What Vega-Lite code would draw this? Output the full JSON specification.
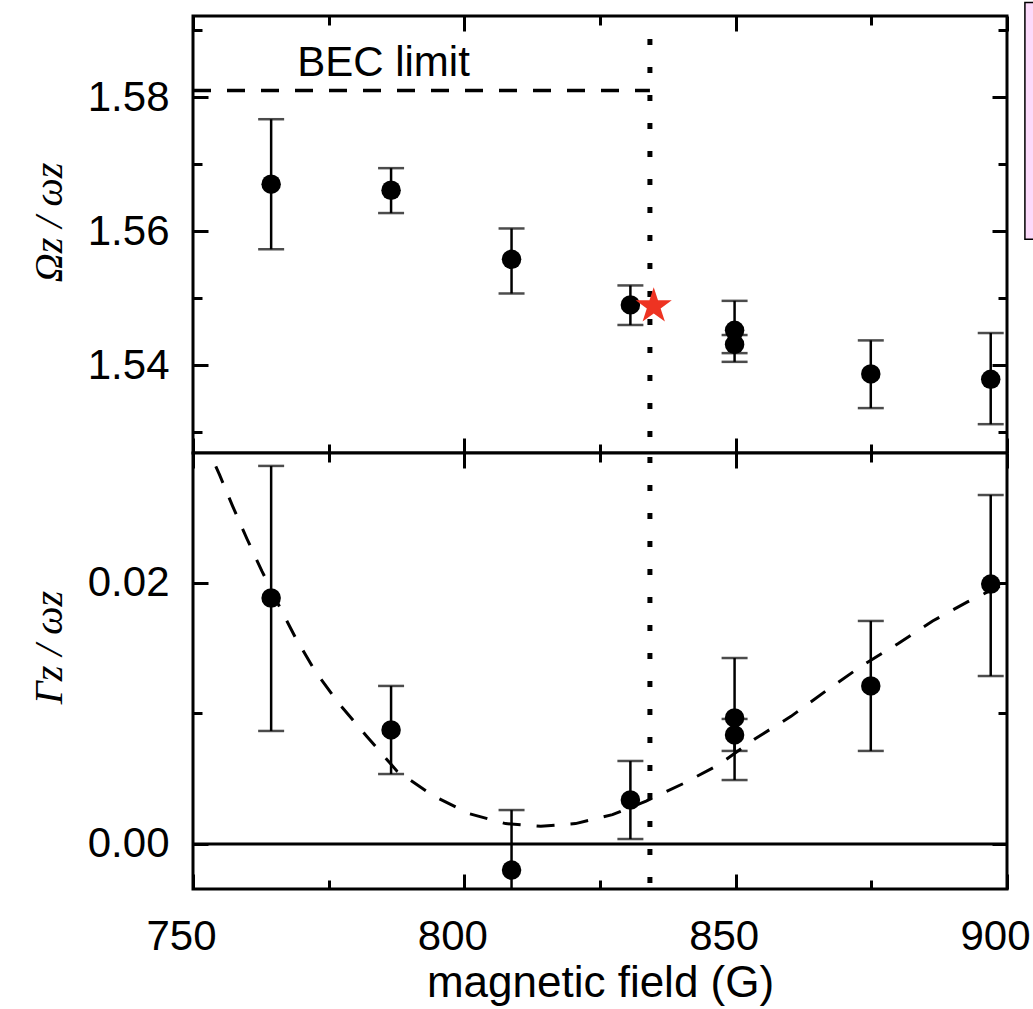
{
  "$schema": "https://vega.github.io/schema/vega-lite/v6.json",
  "background": "#ffffff",
  "padding": {"left": 27, "top": 0, "right": 0, "bottom": 0},
  "spacing": 0,
  "bounds": "flush",
  "config": {
    "view": {"stroke": "#000000", "strokeWidth": 3, "fill": "#ffffff"},
    "axis": {"domain": false, "grid": false, "tickColor": "#000000", "tickWidth": 3, "labelFont": "Liberation Sans", "labelFontSize": 42, "labelColor": "#000000", "titleColor": "#000000", "labelFlush": false, "labelOverlap": false, "minExtent": 0}
  },
  "datasets": {
    "pts": [
      {"B": 764.4, "Omega": 1.5670, "Omega_lo": 1.5573, "Omega_hi": 1.5767, "Gamma": 0.01885, "Gamma_lo": 0.00866, "Gamma_hi": 0.02897},
      {"B": 786.5, "Omega": 1.5661, "Omega_lo": 1.5627, "Omega_hi": 1.5694, "Gamma": 0.00874, "Gamma_lo": 0.00536, "Gamma_hi": 0.01211},
      {"B": 808.7, "Omega": 1.5558, "Omega_lo": 1.5507, "Omega_hi": 1.5604, "Gamma": -0.0020, "Gamma_lo": -0.0066, "Gamma_hi": 0.0026},
      {"B": 830.6, "Omega": 1.5490, "Omega_lo": 1.5460, "Omega_hi": 1.5519, "Gamma": 0.00337, "Gamma_lo": 0.00038, "Gamma_hi": 0.00636},
      {"B": 849.8, "Omega": 1.5452, "Omega_lo": 1.5405, "Omega_hi": 1.5496, "Gamma": 0.00966, "Gamma_lo": 0.0049, "Gamma_hi": 0.01425},
      {"B": 849.8, "Omega": 1.5431, "Omega_lo": 1.5418, "Omega_hi": 1.5445, "Gamma": 0.00836, "Gamma_lo": 0.00713, "Gamma_hi": 0.00958},
      {"B": 874.9, "Omega": 1.5387, "Omega_lo": 1.5336, "Omega_hi": 1.5437, "Gamma": 0.01211, "Gamma_lo": 0.00713, "Gamma_hi": 0.01709},
      {"B": 897.0, "Omega": 1.5379, "Omega_lo": 1.5312, "Omega_hi": 1.5448, "Gamma": 0.01992, "Gamma_lo": 0.01287, "Gamma_hi": 0.02674}
    ],
    "fit": [
      {"B": 754.2, "fit": 0.02894},
      {"B": 754.9, "fit": 0.02828},
      {"B": 757.3, "fit": 0.02589},
      {"B": 760.0, "fit": 0.02333},
      {"B": 762.7, "fit": 0.02091},
      {"B": 766.3, "fit": 0.01789},
      {"B": 768.9, "fit": 0.0158},
      {"B": 772.4, "fit": 0.01331},
      {"B": 776.9, "fit": 0.01075},
      {"B": 782.0, "fit": 0.00826},
      {"B": 787.6, "fit": 0.00558},
      {"B": 794.4, "fit": 0.00366},
      {"B": 800.9, "fit": 0.00232},
      {"B": 807.6, "fit": 0.00156},
      {"B": 814.1, "fit": 0.00136},
      {"B": 820.5, "fit": 0.00156},
      {"B": 827.3, "fit": 0.00225},
      {"B": 833.5, "fit": 0.00329},
      {"B": 840.3, "fit": 0.00462},
      {"B": 847.0, "fit": 0.0061},
      {"B": 853.6, "fit": 0.00807},
      {"B": 860.2, "fit": 0.00978},
      {"B": 866.8, "fit": 0.01178},
      {"B": 873.2, "fit": 0.01364},
      {"B": 879.9, "fit": 0.01535},
      {"B": 886.3, "fit": 0.01709},
      {"B": 892.8, "fit": 0.01857},
      {"B": 898.7, "fit": 0.01977},
      {"B": 899.8, "fit": 0.0199}
    ],
    "bec": [{"B": 750, "v": 1.581}, {"B": 834.2, "v": 1.581}],
    "beclabel": [{"B": 785.1, "v": 1.5831, "label": "BEC limit"}],
    "resonance": [{"B": 834.2}],
    "star": [{"B": 834.9, "v": 1.5488}],
    "zero": [{"v": 0}],
    "legendbox": [{"B1": 903.3, "B2": 905.3, "v1": 1.5588, "v2": 1.5941}]
  },
  "vconcat": [
    {
      "width": 814,
      "height": 437,
      "resolve": {"axis": {"x": "independent", "y": "independent"}},
      "layer": [
        {
          "data": {"name": "legendbox"},
          "mark": {"type": "rect", "fill": "#fcdafa", "stroke": "#000000", "strokeWidth": 1.5, "clip": false},
          "encoding": {
            "x": {"field": "B1", "type": "quantitative", "scale": {"domain": [750, 900], "nice": false, "zero": false}, "axis": null},
            "x2": {"field": "B2"},
            "y": {"field": "v1", "type": "quantitative", "scale": {"domain": [1.5269, 1.5921], "nice": false, "zero": false}, "axis": null},
            "y2": {"field": "v2"}
          }
        },
        {
          "data": {"name": "resonance"},
          "mark": {"type": "rule", "color": "#000000", "strokeWidth": 5, "strokeDash": [6, 22], "strokeDashOffset": 5},
          "encoding": {
            "x": {"field": "B", "type": "quantitative", "scale": {"domain": [750, 900], "nice": false, "zero": false}, "axis": null}
          }
        },
        {
          "data": {"name": "bec"},
          "mark": {"type": "line", "color": "#000000", "strokeWidth": 3.5, "strokeDash": [18, 16]},
          "encoding": {
            "x": {"field": "B", "type": "quantitative", "scale": {"domain": [750, 900], "nice": false, "zero": false}, "axis": null},
            "y": {"field": "v", "type": "quantitative", "scale": {"domain": [1.5269, 1.5921], "nice": false, "zero": false}, "axis": null}
          }
        },
        {
          "data": {"name": "beclabel"},
          "mark": {"type": "text", "font": "Liberation Sans", "fontSize": 42, "color": "#000000", "align": "center", "baseline": "alphabetic"},
          "encoding": {
            "x": {"field": "B", "type": "quantitative", "scale": {"domain": [750, 900], "nice": false, "zero": false}, "axis": null},
            "y": {"field": "v", "type": "quantitative", "scale": {"domain": [1.5269, 1.5921], "nice": false, "zero": false}, "axis": null},
            "text": {"field": "label"}
          }
        },
        {
          "data": {"name": "pts"},
          "mark": {"type": "rule", "color": "#000000", "strokeWidth": 2.5},
          "encoding": {
            "x": {"field": "B", "type": "quantitative", "scale": {"domain": [750, 900], "nice": false, "zero": false},
              "axis": {"orient": "bottom", "values": [750, 800, 850, 900], "tickSize": -15, "labels": false, "title": null}},
            "y": {"field": "Omega_lo", "type": "quantitative", "scale": {"domain": [1.5269, 1.5921], "nice": false, "zero": false},
              "axis": {"orient": "left", "values": [1.54, 1.56, 1.58], "format": ".2f", "tickSize": -15, "labelPadding": 39,
                "title": "Ωz / ωz", "titleFont": "Liberation Serif", "titleFontStyle": "italic", "titleFontWeight": "normal", "titleFontSize": 40,
                "titleAngle": -90, "titleX": -144, "titleY": 206, "titleAlign": "center", "titleBaseline": "middle"}},
            "y2": {"field": "Omega_hi"}
          }
        },
        {
          "data": {"name": "pts"},
          "mark": {"type": "tick", "orient": "horizontal", "color": "#000000", "size": 26, "thickness": 2.5},
          "encoding": {
            "x": {"field": "B", "type": "quantitative", "scale": {"domain": [750, 900], "nice": false, "zero": false},
              "axis": {"orient": "bottom", "values": [775, 825, 875], "tickSize": -9, "labels": false, "title": null}},
            "y": {"field": "Omega_lo", "type": "quantitative", "scale": {"domain": [1.5269, 1.5921], "nice": false, "zero": false},
              "axis": {"orient": "left", "values": [1.53, 1.55, 1.57, 1.59], "tickSize": -9, "labels": false, "title": null}}
          }
        },
        {
          "data": {"name": "pts"},
          "mark": {"type": "tick", "orient": "horizontal", "color": "#000000", "size": 26, "thickness": 2.5},
          "encoding": {
            "x": {"field": "B", "type": "quantitative", "scale": {"domain": [750, 900], "nice": false, "zero": false},
              "axis": {"orient": "top", "values": [750, 800, 850, 900], "tickSize": -15, "labels": false, "title": null}},
            "y": {"field": "Omega_hi", "type": "quantitative", "scale": {"domain": [1.5269, 1.5921], "nice": false, "zero": false},
              "axis": {"orient": "right", "values": [1.54, 1.56, 1.58], "tickSize": -15, "labels": false, "title": null}}
          }
        },
        {
          "data": {"name": "pts"},
          "mark": {"type": "point", "shape": "circle", "filled": true, "color": "#000000", "opacity": 1, "size": 380},
          "encoding": {
            "x": {"field": "B", "type": "quantitative", "scale": {"domain": [750, 900], "nice": false, "zero": false},
              "axis": {"orient": "top", "values": [775, 825, 875], "tickSize": -9, "labels": false, "title": null}},
            "y": {"field": "Omega", "type": "quantitative", "scale": {"domain": [1.5269, 1.5921], "nice": false, "zero": false},
              "axis": {"orient": "right", "values": [1.53, 1.55, 1.57, 1.59], "tickSize": -9, "labels": false, "title": null}}
          }
        },
        {
          "data": {"name": "star"},
          "mark": {"type": "point", "filled": true, "color": "#ee3322", "opacity": 1, "size": 1444,
            "shape": "M0,-1L0.2245,-0.309L0.9511,-0.309L0.3633,0.118L0.5878,0.809L0,0.382L-0.5878,0.809L-0.3633,0.118L-0.9511,-0.309L-0.2245,-0.309Z"},
          "encoding": {
            "x": {"field": "B", "type": "quantitative", "scale": {"domain": [750, 900], "nice": false, "zero": false}, "axis": null},
            "y": {"field": "v", "type": "quantitative", "scale": {"domain": [1.5269, 1.5921], "nice": false, "zero": false}, "axis": null}
          }
        }
      ]
    },
    {
      "width": 814,
      "height": 436,
      "resolve": {"axis": {"x": "independent", "y": "independent"}},
      "layer": [
        {
          "data": {"name": "resonance"},
          "mark": {"type": "rule", "color": "#000000", "strokeWidth": 5, "strokeDash": [6, 22], "strokeDashOffset": 24},
          "encoding": {
            "x": {"field": "B", "type": "quantitative", "scale": {"domain": [750, 900], "nice": false, "zero": false}, "axis": null}
          }
        },
        {
          "data": {"name": "zero"},
          "mark": {"type": "rule", "color": "#000000", "strokeWidth": 3},
          "encoding": {
            "y": {"field": "v", "type": "quantitative", "scale": {"domain": [-0.00345, 0.02996], "nice": false, "zero": false}, "axis": null}
          }
        },
        {
          "data": {"name": "fit"},
          "mark": {"type": "line", "color": "#000000", "strokeWidth": 3, "strokeDash": [18, 16], "clip": true},
          "encoding": {
            "x": {"field": "B", "type": "quantitative", "scale": {"domain": [750, 900], "nice": false, "zero": false}, "axis": null},
            "y": {"field": "fit", "type": "quantitative", "scale": {"domain": [-0.00345, 0.02996], "nice": false, "zero": false}, "axis": null}
          }
        },
        {
          "data": {"name": "pts"},
          "mark": {"type": "rule", "color": "#000000", "strokeWidth": 2.5, "clip": true},
          "encoding": {
            "x": {"field": "B", "type": "quantitative", "scale": {"domain": [750, 900], "nice": false, "zero": false},
              "axis": {"orient": "bottom", "values": [750, 800, 850, 900], "tickSize": -15, "labelPadding": 75, "labelBaseline": "alphabetic", "labelOffset": -12,
                "title": "magnetic field (G)", "titleFont": "Liberation Sans", "titleFontSize": 44, "titleFontWeight": "normal", "titleY": 107, "titleBaseline": "alphabetic"}},
            "y": {"field": "Gamma_lo", "type": "quantitative", "scale": {"domain": [-0.00345, 0.02996], "nice": false, "zero": false},
              "axis": {"orient": "left", "values": [0, 0.02], "format": ".2f", "tickSize": -15, "labelPadding": 39,
                "title": "Γz / ωz", "titleFont": "Liberation Serif", "titleFontStyle": "italic", "titleFontWeight": "normal", "titleFontSize": 40,
                "titleAngle": -90, "titleX": -144, "titleY": 194, "titleAlign": "center", "titleBaseline": "middle"}},
            "y2": {"field": "Gamma_hi"}
          }
        },
        {
          "data": {"name": "pts"},
          "mark": {"type": "tick", "orient": "horizontal", "color": "#000000", "size": 26, "thickness": 2.5, "clip": true},
          "encoding": {
            "x": {"field": "B", "type": "quantitative", "scale": {"domain": [750, 900], "nice": false, "zero": false},
              "axis": {"orient": "bottom", "values": [775, 825, 875], "tickSize": -9, "labels": false, "title": null}},
            "y": {"field": "Gamma_lo", "type": "quantitative", "scale": {"domain": [-0.00345, 0.02996], "nice": false, "zero": false},
              "axis": {"orient": "left", "values": [0.01], "tickSize": -9, "labels": false, "title": null}}
          }
        },
        {
          "data": {"name": "pts"},
          "mark": {"type": "tick", "orient": "horizontal", "color": "#000000", "size": 26, "thickness": 2.5, "clip": true},
          "encoding": {
            "x": {"field": "B", "type": "quantitative", "scale": {"domain": [750, 900], "nice": false, "zero": false},
              "axis": {"orient": "top", "values": [750, 800, 850, 900], "tickSize": -15, "labels": false, "title": null}},
            "y": {"field": "Gamma_hi", "type": "quantitative", "scale": {"domain": [-0.00345, 0.02996], "nice": false, "zero": false},
              "axis": {"orient": "right", "values": [0, 0.02], "tickSize": -15, "labels": false, "title": null}}
          }
        },
        {
          "data": {"name": "pts"},
          "mark": {"type": "point", "shape": "circle", "filled": true, "color": "#000000", "opacity": 1, "size": 380},
          "encoding": {
            "x": {"field": "B", "type": "quantitative", "scale": {"domain": [750, 900], "nice": false, "zero": false},
              "axis": {"orient": "top", "values": [775, 825, 875], "tickSize": -9, "labels": false, "title": null}},
            "y": {"field": "Gamma", "type": "quantitative", "scale": {"domain": [-0.00345, 0.02996], "nice": false, "zero": false},
              "axis": {"orient": "right", "values": [0.01], "tickSize": -9, "labels": false, "title": null}}
          }
        }
      ]
    }
  ]
}
